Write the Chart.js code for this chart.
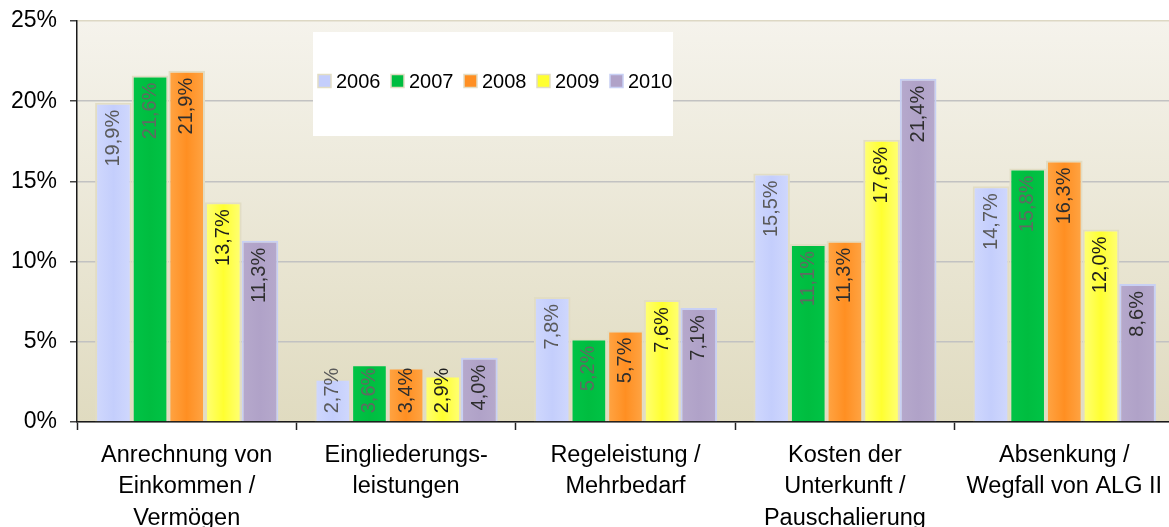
<!DOCTYPE html>
<html>
<head>
<meta charset="utf-8">
<script src="https://cdn.jsdelivr.net/npm/chart.js@4.4.1/dist/chart.umd.min.js"></script>
<style>
  html, body { margin: 0; padding: 0; overflow: hidden; background: #fff; }
  #wrap { width: 1174px; height: 527px; position: relative; }
</style>
</head>
<body>
<div id="wrap"><canvas id="chart"></canvas></div>
<script>
// Categories (multi-line axis labels)
const categories = [
  ['Anrechnung von', 'Einkommen /', 'Vermögen'],
  ['Eingliederungs-', 'leistungen'],
  ['Regeleistung /', 'Mehrbedarf'],
  ['Kosten der', 'Unterkunft /', 'Pauschalierung'],
  ['Absenkung /', 'Wegfall von ALG II']
];

// Series labels
const years = ['2006', '2007', '2008', '2009', '2010'];

// Shares in percent, one array per year
const values2006 = [19.9, 2.7, 7.8, 15.5, 14.7];
const values2007 = [21.6, 3.6, 5.2, 11.1, 15.8];
const values2008 = [21.9, 3.4, 5.7, 11.3, 16.3];
const values2009 = [13.7, 2.9, 7.6, 17.6, 12.0];
const values2010 = [11.3, 4.0, 7.1, 21.4, 8.6];

// Value axis ticks
const yTicks = [0, 5, 10, 15, 20, 25];

const FONT = '"Liberation Sans", Arial, sans-serif';
const CAT_PCT = 0.835;

// Per-series look: base colour, lighter edge tone, border, label colour
const styles = [
  { base: '#c4cefc', edge: '#d0d8fd', border: '#e2ddc4', text: '#5a5a5a' },
  { base: '#00bd40', edge: '#00c446', border: '#e2ddc4', text: '#5f6a62' },
  { base: '#ff8f22', edge: '#ffa545', border: '#e2ddc4', text: '#2e2e2e' },
  { base: '#ffff30', edge: '#ffff78', border: '#e2ddc4', text: '#1e1e1e' },
  { base: '#b0a2c8', edge: '#b6a9cc', border: '#c8d0f4', text: '#2e2e2e' }
];

const seriesValues = [values2006, values2007, values2008, values2009, values2010];

// Horizontal gradient across each bar, positioned from the category scale
function barFill(ctx) {
  const st = styles[ctx.datasetIndex];
  const chart = ctx.chart;
  const xs = chart.scales && chart.scales.x;
  if (ctx.type !== 'data' || !xs || !chart.chartArea) return st.base;
  const n = categories.length, m = years.length;
  const groupW = (xs.width / n) * CAT_PCT;
  const barW = groupW / m;
  const left = xs.getPixelForValue(ctx.dataIndex) - groupW / 2 + ctx.datasetIndex * barW;
  const g = chart.ctx.createLinearGradient(left, 0, left + barW, 0);
  g.addColorStop(0, st.edge);
  g.addColorStop(0.5, st.base);
  g.addColorStop(1, st.edge);
  return g;
}

const datasets = years.map((y, i) => ({
  label: y,
  data: seriesValues[i],
  backgroundColor: barFill,
  borderColor: styles[i].border,
  borderWidth: 2,
  borderSkipped: 'bottom',
  barPercentage: 1.0,
  categoryPercentage: CAT_PCT
}));

const fmt = v => v.toFixed(1).replace('.', ',') + '%';

// Plot area background: soft vertical beige gradient
const plotBackground = {
  id: 'plotBackground',
  beforeDraw(chart) {
    const { ctx, chartArea: a } = chart;
    const g = ctx.createLinearGradient(0, a.top, 0, a.bottom);
    g.addColorStop(0, '#f5f3ec');
    g.addColorStop(1, '#e0dbc0');
    ctx.save();
    ctx.fillStyle = g;
    ctx.fillRect(a.left, a.top, a.right - a.left, a.bottom - a.top);
    ctx.restore();
  }
};

// Legend in a white box inside the plot area
const boxLegend = {
  id: 'boxLegend',
  beforeDatasetsDraw(chart) {
    const { ctx } = chart;
    ctx.save();
    ctx.fillStyle = '#ffffff';
    ctx.fillRect(313, 32, 360, 104);
    ctx.font = '20px ' + FONT;
    ctx.textBaseline = 'middle';
    ctx.textAlign = 'left';
    chart.data.datasets.forEach((ds, i) => {
      const x = 318 + i * 73;
      const yc = 81;
      ctx.fillStyle = styles[i].base;
      ctx.fillRect(x, yc - 6.5, 13, 13);
      ctx.strokeStyle = styles[i].border;
      ctx.lineWidth = 1.5;
      ctx.strokeRect(x, yc - 6.5, 13, 13);
      ctx.fillStyle = '#000';
      ctx.fillText(ds.label, x + 18, yc + 1);
    });
    ctx.restore();
  }
};

// Rotated value labels inside the top of each bar
const valueLabels = {
  id: 'valueLabels',
  afterDatasetsDraw(chart) {
    const { ctx } = chart;
    ctx.save();
    ctx.font = '20px ' + FONT;
    ctx.textAlign = 'right';
    ctx.textBaseline = 'middle';
    chart.data.datasets.forEach((ds, di) => {
      const meta = chart.getDatasetMeta(di);
      meta.data.forEach((bar, i) => {
        const txt = fmt(ds.data[i]);
        const len = ctx.measureText(txt).width;
        let anchor = bar.y + 7;
        if (anchor + len > bar.base - 8) anchor = bar.base - 8 - len;
        ctx.save();
        ctx.translate(bar.x, anchor);
        ctx.rotate(-Math.PI / 2);
        ctx.fillStyle = styles[di].text;
        ctx.fillText(txt, 0, 0);
        ctx.restore();
      });
    });
    ctx.restore();
  }
};

new Chart(document.getElementById('chart'), {
  type: 'bar',
  data: { labels: categories, datasets },
  options: {
    responsive: true,
    maintainAspectRatio: false,
    animation: false,
    layout: { padding: { top: 21, right: 0, left: 0, bottom: 0 } },
    plugins: { legend: { display: false }, tooltip: { enabled: false } },
    scales: {
      x: {
        grid: {
          offset: true,
          drawOnChartArea: false,
          drawTicks: true,
          tickLength: 8,
          tickColor: '#222',
          tickWidth: 1.5
        },
        border: { display: true, color: '#1a1a1a', width: 1.5 },
        ticks: {
          color: '#000',
          font: { family: FONT, size: 23.5, lineHeight: 1.33 },
          padding: 10,
          maxRotation: 0,
          autoSkip: false
        },
        afterFit(scale) { scale.height = 105; }
      },
      y: {
        min: yTicks[0],
        max: yTicks[yTicks.length - 1],
        afterBuildTicks(scale) { scale.ticks = yTicks.map(v => ({ value: v })); },
        grid: {
          color: c => (c.tick && c.tick.value === 25) ? '#ddd8c4' : '#c2c2c2',
          lineWidth: 1.5,
          tickLength: 7,
          tickColor: '#444',
          tickWidth: 1.5
        },
        border: { display: true, color: '#1a1a1a', width: 1.5 },
        ticks: {
          color: '#000',
          font: { family: FONT, size: 23 },
          padding: 13,
          callback: v => v + '%'
        },
        afterFit(scale) {
          scale.width = 77;
          scale.paddingTop = 0;
          scale.paddingBottom = 0;
        }
      }
    }
  },
  plugins: [plotBackground, boxLegend, valueLabels]
});
</script>
</body>
</html>
